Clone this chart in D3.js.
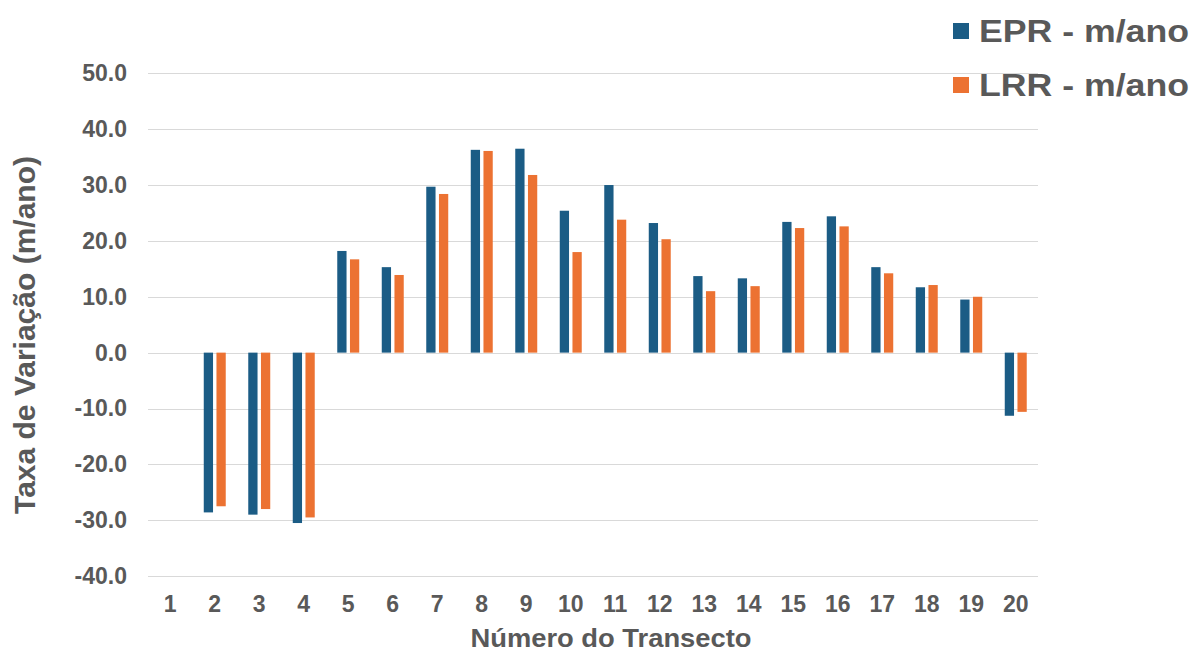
<!DOCTYPE html>
<html>
<head>
<meta charset="utf-8">
<script src="https://cdn.jsdelivr.net/npm/d3@7"></script>
<style>
  html, body { margin: 0; padding: 0; background: #fff; }
  svg { display: block; font-family: "Liberation Sans", Arial, sans-serif; }
</style>
</head>
<body>
<svg id="chart" width="1195" height="655"></svg>
<script>
// Transect numbers along the coast
const transects = ["1","2","3","4","5","6","7","8","9","10","11","12","13","14","15","16","17","18","19","20"];
// End Point Rate per transect (m/ano); transect 1 has no value
const epr = [null, -28.6, -29.0, -30.5, 18.2, 15.3, 29.7, 36.3, 36.5, 25.4, 30.0, 23.2, 13.7, 13.3, 23.4, 24.4, 15.3, 11.7, 9.5, -11.3];
// Linear Regression Rate per transect (m/ano)
const lrr = [null, -27.5, -28.0, -29.5, 16.7, 13.9, 28.4, 36.1, 31.8, 18.0, 23.8, 20.3, 11.0, 11.9, 22.3, 22.6, 14.2, 12.1, 10.0, -10.6];
const seriesNames = ["EPR - m/ano", "LRR - m/ano"];
const seriesColors = ["#1B5C85", "#EC7232"];
const yTicks = [-40, -30, -20, -10, 0, 10, 20, 30, 40, 50];

const svg = d3.select("#chart");
const textColor = "#595959";
const font = "Liberation Sans, Arial, sans-serif";

const x0 = d3.scaleBand().domain(transects).range([148, 1038]).padding(0);
const step = x0.step();
const x1 = d3.scaleBand().domain([0, 1]).range([step * 0.253, step * 0.747]).paddingInner(0.27);
const y = d3.scaleLinear().domain([-40, 50]).range([576.1, 73.3]);

// horizontal gridlines
svg.append("g")
  .selectAll("line")
  .data(yTicks)
  .join("line")
  .attr("x1", 148).attr("x2", 1038)
  .attr("y1", d => Math.round(y(d)) + 0.5).attr("y2", d => Math.round(y(d)) + 0.5)
  .attr("stroke", "#d9d9d9").attr("stroke-width", 1.2);

// y axis labels, one decimal with an ASCII hyphen for negatives
const yAxis = d3.axisLeft(y).tickValues(yTicks).tickFormat(d => d.toFixed(1)).tickSize(0).tickPadding(0);
const gy = svg.append("g").attr("transform", "translate(127,0)").call(yAxis);
gy.select(".domain").remove();
gy.selectAll("text")
  .attr("fill", textColor).attr("font-size", 23).attr("font-weight", "bold")
  .attr("font-family", font);

// x axis labels
const xAxis = d3.axisBottom(x0).tickSize(0).tickPadding(0);
const gx = svg.append("g").attr("transform", "translate(0,612)").call(xAxis);
gx.select(".domain").remove();
gx.selectAll("text")
  .attr("dy", 0).attr("y", 0)
  .attr("fill", textColor).attr("font-size", 23).attr("font-weight", "bold")
  .attr("font-family", font);

// bars
const rows = transects.map((t, i) => ({ t, vals: [epr[i], lrr[i]] }));
const groups = svg.append("g").selectAll("g")
  .data(rows).join("g")
  .attr("transform", d => `translate(${x0(d.t)},0)`);
groups.selectAll("rect")
  .data(d => d.vals.map((v, k) => ({ v, k })).filter(e => e.v !== null))
  .join("rect")
  .attr("x", e => x1(e.k))
  .attr("width", x1.bandwidth())
  .attr("y", e => Math.min(y(e.v), y(0)))
  .attr("height", e => Math.abs(y(e.v) - y(0)))
  .attr("fill", e => seriesColors[e.k]);

// axis titles
svg.append("text")
  .attr("x", 611).attr("y", 647)
  .attr("text-anchor", "middle")
  .attr("fill", textColor).attr("font-size", 25).attr("font-weight", "bold")
  .attr("textLength", 281).attr("lengthAdjust", "spacingAndGlyphs")
  .text("Número do Transecto");

svg.append("text")
  .attr("transform", "translate(35,335) rotate(-90)")
  .attr("text-anchor", "middle")
  .attr("fill", textColor).attr("font-size", 30).attr("font-weight", "bold")
  .text("Taxa de Variação (m/ano)");

// legend
const legend = svg.append("g").selectAll("g")
  .data(seriesNames).join("g")
  .attr("transform", (d, i) => `translate(0,${i * 54})`);
legend.append("rect")
  .attr("x", 953).attr("y", 23).attr("width", 16).attr("height", 16)
  .attr("fill", (d, i) => seriesColors[i]);
legend.append("text")
  .attr("x", 979).attr("y", 42)
  .attr("fill", textColor).attr("font-size", 31).attr("font-weight", "bold")
  .attr("textLength", 210).attr("lengthAdjust", "spacingAndGlyphs")
  .text(d => d);
</script>
</body>
</html>
